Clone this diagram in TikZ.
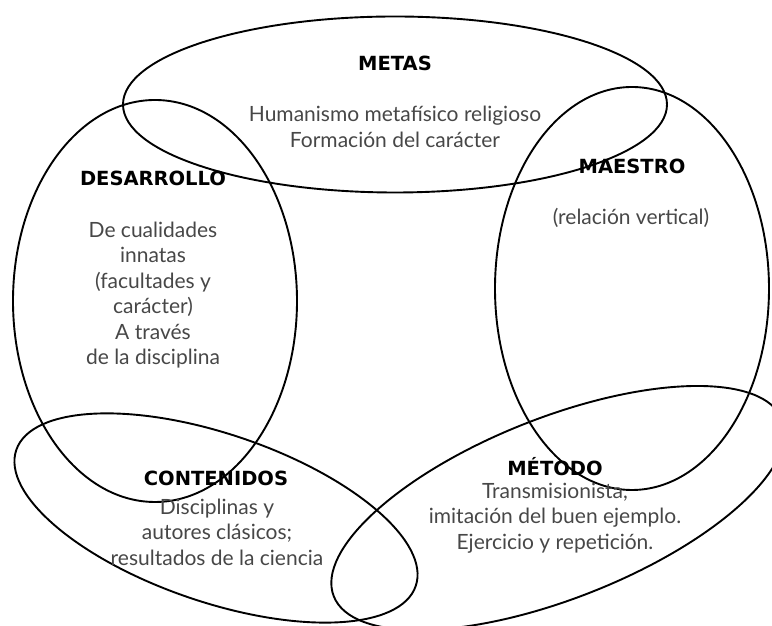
\documentclass[tikz,border=0pt]{standalone}
\usepackage{fontspec}
\setmainfont{Lato}
\newfontfamily\headfont{DejaVu Sans}
\definecolor{textgray}{HTML}{474747}
\tikzset{
  ring/.style={line width=1.9pt},
  heading/.style={font=\headfont\bfseries\fontsize{19.5}{22}\selectfont, inner sep=0pt},
  bodytext/.style={font=\fontsize{21}{25.5}\selectfont, text=textgray, align=center, inner sep=0pt}
}
\begin{document}
\begin{tikzpicture}[x=1pt,y=1pt]
        \useasboundingbox (0,0) rectangle (772,626);
        \clip (0,0) rectangle (772,626);
% Draw the ellipses
        \draw[ring] (395,521.5) ellipse [x radius=272, y radius=88];
        \draw[ring] (155,325) ellipse [x radius=142, y radius=201];
        \draw[ring] (632,337.5) ellipse [x radius=137, y radius=201.5];
        \draw[ring, rotate around={-18.8:(216,108)}] (216,108) ellipse [x radius=211, y radius=84];
        \draw[ring, rotate around={21.5:(558,118)}] (558,118) ellipse [x radius=241, y radius=90.5];
% Draw nodes
        \node[heading] (metas) at (395,563) {METAS};
        \node[bodytext] (metastext) at (395,499) {Humanismo metafísico religioso\\Formación del carácter};
        \node[heading] (desarrollo) at (153,448) {DESARROLLO};
        \node[bodytext] (desarrollotext) at (153,331) {De cualidades\\innatas\\(facultades y\\carácter)\\A través\\de la disciplina};
        \node[heading] (maestro) at (632,460) {MAESTRO};
        \node[bodytext] (maestrotext) at (631,408) {(relación vertical)};
        \node[heading] (contenidos) at (216,148) {CONTENIDOS};
        \node[bodytext] (contenidostext) at (217,94) {Disciplinas y\\autores clásicos;\\resultados de la ciencia};
        \node[heading] (metodo) at (555,159) {MÉTODO};
        \node[bodytext] (metodotext) at (555,108) {Transmisionista,\\imitación del buen ejemplo.\\Ejercicio y repetición.};
      \end{tikzpicture}
\end{document}
